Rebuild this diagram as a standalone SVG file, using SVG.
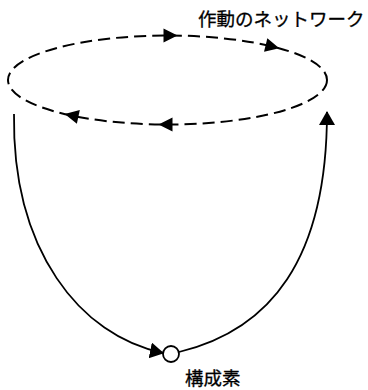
<svg xmlns="http://www.w3.org/2000/svg" width="368" height="390" viewBox="0 0 368 390">
<style>
.lbl{font-family:"Noto Sans CJK JP","Noto Sans",sans-serif;font-size:18.5px;fill:#000;stroke:#000;stroke-width:0.3}
.dash{fill:none;stroke:#000;stroke-width:2;stroke-dasharray:12,6}
.line{fill:none;stroke:#000;stroke-width:1.8}
</style>
<defs>
<polygon id="ah" points="7.5,0 -6.5,-7 -6.5,7" fill="#000"/>
<marker id="end" markerWidth="18" markerHeight="18" refX="13" refY="8" orient="auto" markerUnits="userSpaceOnUse">
<path d="M0,0 L14,8 L0,16 Z" fill="#000"/>
</marker>
</defs>
<g id="network">
<ellipse class="dash" cx="167.5" cy="80" rx="159.5" ry="44.5"/>
<use href="#ah" transform="translate(170,35.5)"/>
<use href="#ah" transform="translate(272,46.5) rotate(13.6)"/>
<use href="#ah" transform="translate(166,124.5) rotate(180)"/>
<use href="#ah" transform="translate(72,115.5) rotate(192.2)"/>
<text class="lbl" x="198" y="26">作動のネットワーク</text>
</g>
<g id="component">
<circle cx="171" cy="354" r="8" fill="#fff" stroke="#000" stroke-width="1.8"/>
<text class="lbl" x="185" y="385">構成素</text>
</g>
<g id="connectors">
<path class="line" d="M14,114 C12,250 80,336 163,353" marker-end="url(#end)"/>
<path class="line" d="M179,352 C270,330 327,260 327,112" marker-end="url(#end)"/>
</g>
</svg>
